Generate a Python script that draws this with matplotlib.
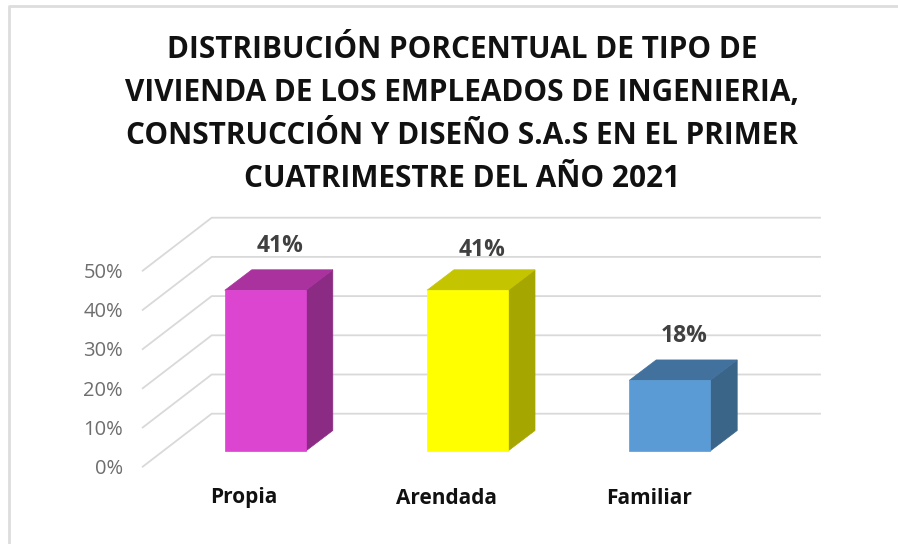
import matplotlib
matplotlib.use("Agg")
import matplotlib.pyplot as plt
from matplotlib.patches import Polygon, Rectangle

TITLE = ("DISTRIBUCIÓN PORCENTUAL DE TIPO DE\n"
         "VIVIENDA DE LOS EMPLEADOS DE INGENIERIA,\n"
         "CONSTRUCCIÓN Y DISEÑO S.A.S EN EL PRIMER\n"
         "CUATRIMESTRE DEL AÑO 2021")
categories = ["Propia", "Arendada", "Familiar"]
values = [41, 41, 18]
ticks = [0, 10, 20, 30, 40, 50]
front_colors = ["#DC45D0", "#FFFF00", "#5B9BD5"]
top_colors = ["#A9329E", "#C4C400", "#41719C"]
side_colors = ["#8C2B83", "#A6A600", "#3A6488"]

W, H = 898, 544
PX_CAT = 202.2   # pixels between bars
PX_PCT = 3.92    # pixels per percentage point
X0, Y0 = 265.3, 451


def dx(px):
    return px / PX_CAT


def dy(px):
    return px / PX_PCT


plt.rcParams["font.family"] = ["Open Sans", "DejaVu Sans"]
fig = plt.figure(figsize=(W / 100, H / 100), dpi=100)
ax = fig.add_axes([0, 0, 1, 1])
ax.set_xlim(-X0 / PX_CAT, (W - X0) / PX_CAT)
ax.set_ylim(-(H - Y0) / PX_PCT, Y0 / PX_PCT)
ax.axis("off")

# outer chart frame
grid_c = "#D9D9D9"
ax.plot([dx(9.5 - X0)] * 2 + [dx(W - X0)],
        [dy(Y0 - H), dy(Y0 - 5.5), dy(Y0 - 5.5)], color="#DDDDDD", lw=2, zorder=1)

# gridlines: slanted floor/wall part, then back wall
for t in ticks:
    ax.plot([dx(142.7 - X0), dx(211.7 - X0), dx(820 - X0)],
            [t + dy(-15.7), t + dy(37.3), t + dy(37.3)],
            color=grid_c, lw=1.3, zorder=1)
    ax.text(dx(123 - X0), t + dy(-18), f"{t}%", ha="right", va="center",
            fontsize=14.5, color="#6E6E6E")

# bars with fake 3d
w = dx(81)
ddx, ddy = dx(27), dy(20.5)
for i, v in enumerate(values):
    x0, x1 = i - w / 2, i + w / 2
    ax.add_patch(Polygon([(x1, 0), (x1 + ddx, ddy), (x1 + ddx, v + ddy), (x1, v)],
                         fc=side_colors[i], ec=side_colors[i], lw=0.5, zorder=3))
    ax.add_patch(Polygon([(x0, v), (x0 + ddx, v + ddy), (x1 + ddx, v + ddy), (x1, v)],
                         fc=top_colors[i], ec=top_colors[i], lw=0.5, zorder=3))
    ax.add_patch(Rectangle((x0, 0), w, v, fc=front_colors[i], ec=front_colors[i],
                           lw=0.5, zorder=4))
    ax.text(i + dx(14.5), v + dy(44 if i == 0 else 40 if i == 1 else 44), f"{v}%",
            ha="center", va="center", fontsize=16.5, fontweight="bold", color="#404040")
    ax.text(i - dx(21), dy(Y0 - 498), categories[i], ha="center", va="center",
            fontsize=15, fontweight="bold", color="#111111")

ax.text(dx(462 - X0), dy(Y0 - 114.5), TITLE, ha="center", va="center", fontsize=21.4,
        fontweight="bold", color="#111111", linespacing=1.555)

fig.savefig("out.png", dpi=100)
